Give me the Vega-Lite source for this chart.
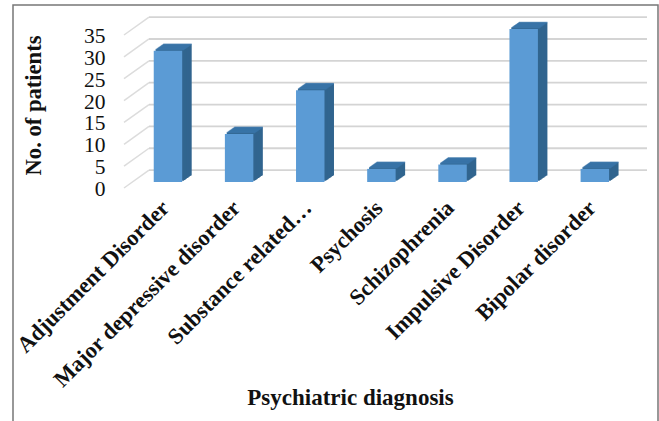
{"$schema":"https://vega.github.io/schema/vega-lite/v6.json","width":645,"height":420,"autosize":{"type":"none"},"padding":{"left":13,"top":5,"right":1,"bottom":0},"background":"white","config":{"view":{"stroke":"#777777","strokeWidth":1.5},"font":"Liberation Serif"},
"datasets":{"bars":[{"d":"Adjustment Disorder","n":30},{"d":"Major depressive disorder","n":11},{"d":"Substance related…","n":21},{"d":"Psychosis","n":3},{"d":"Schizophrenia","n":4},{"d":"Impulsive Disorder","n":35},{"d":"Bipolar disorder","n":3}],
"wall":[{"g":0,"p":0,"l":0},{"g":0,"p":1,"l":4.09},{"g":5,"p":0,"l":5},{"g":5,"p":1,"l":9.09},{"g":10,"p":0,"l":10},{"g":10,"p":1,"l":14.09},{"g":15,"p":0,"l":15},{"g":15,"p":1,"l":19.09},{"g":20,"p":0,"l":20},{"g":20,"p":1,"l":24.09},{"g":25,"p":0,"l":25},{"g":25,"p":1,"l":29.09},{"g":30,"p":0,"l":30},{"g":30,"p":1,"l":34.09},{"g":35,"p":0,"l":35},{"g":35,"p":1,"l":39.09}],
"back":[{"g":0,"p":0,"l":4.09},{"g":0,"p":1,"l":4.09},{"g":5,"p":0,"l":9.09},{"g":5,"p":1,"l":9.09},{"g":10,"p":0,"l":14.09},{"g":10,"p":1,"l":14.09},{"g":15,"p":0,"l":19.09},{"g":15,"p":1,"l":19.09},{"g":20,"p":0,"l":24.09},{"g":20,"p":1,"l":24.09},{"g":25,"p":0,"l":29.09},{"g":25,"p":1,"l":29.09},{"g":30,"p":0,"l":34.09},{"g":30,"p":1,"l":34.09},{"g":35,"p":0,"l":39.09},{"g":35,"p":1,"l":39.09}]},
"resolve":{"scale":{"x":"independent"}},
"layer":[
{"data":{"name":"wall"},"mark":{"type":"line","color":"#dcdcdc","strokeWidth":1.5},"encoding":{"detail":{"field":"g"},"x":{"field":"p","type":"quantitative","axis":null,"scale":{"domain":[0,1],"range":[111,136]}},"y":{"field":"l","type":"quantitative","scale":{"domain":[0,35],"range":[183,30],"nice":false},"axis":{"values":[0,5,10,15,20,25,30,35],"labelOverlap":false,"domain":false,"ticks":false,"grid":false,"offset":-92,"labelPadding":0,"labelOffset":1.5,"labelFont":"Liberation Serif","labelFontSize":21.5,"labelColor":"#111111","title":"No. of patients","titleFont":"Liberation Serif","titleFontSize":22.6,"titleFontWeight":"bold","titleColor":"#111111","titleX":-60,"titleY":100,"titleAnchor":"middle"}}}},
{"data":{"name":"back"},"mark":{"type":"line","color":"#d4d4d4","strokeWidth":1.8},"encoding":{"detail":{"field":"g"},"x":{"field":"p","type":"quantitative","axis":null,"scale":{"domain":[0,1],"range":[136,634]}},"y":{"field":"l","type":"quantitative"}}},
{"data":{"name":"bars"},"encoding":{"x":{"field":"d","type":"nominal","sort":null,"scale":{"range":[111,609],"paddingInner":0.6,"paddingOuter":0.3},"axis":{"domain":false,"ticks":false,"offset":-222,"labelAngle":-45,"labelAlign":"right","labelBaseline":"middle","labelPadding":1,"labelOffset":6,"labelFont":"Liberation Serif","labelFontSize":22.5,"labelFontWeight":"bold","labelColor":"#111111","labelLimit":320,"title":"Psychiatric diagnosis","titleFont":"Liberation Serif","titleFontSize":23,"titleFontWeight":"bold","titleColor":"#111111","titleX":337,"titleY":194,"titleAnchor":"middle","titleBaseline":"middle"}},"y":{"field":"n","type":"quantitative"}},
"layer":[
{"mark":{"type":"bar","color":"#31658f","xOffset":17.9,"yOffset":-12.6}},
{"mark":{"type":"tick","color":"#3a76ab","size":28.5,"thickness":1.5,"xOffset":17.9,"yOffset":-12.6}},
{"mark":{"type":"bar","color":"#31658f","xOffset":16.95,"yOffset":-11.95}},
{"mark":{"type":"tick","color":"#3a76ab","size":28.5,"thickness":1.5,"xOffset":16.95,"yOffset":-11.95}},
{"mark":{"type":"bar","color":"#31658f","xOffset":16,"yOffset":-11.3}},
{"mark":{"type":"tick","color":"#3a76ab","size":28.5,"thickness":1.5,"xOffset":16,"yOffset":-11.3}},
{"mark":{"type":"bar","color":"#31658f","xOffset":15.05,"yOffset":-10.6}},
{"mark":{"type":"tick","color":"#3a76ab","size":28.5,"thickness":1.5,"xOffset":15.05,"yOffset":-10.6}},
{"mark":{"type":"bar","color":"#31658f","xOffset":14.1,"yOffset":-9.95}},
{"mark":{"type":"tick","color":"#3a76ab","size":28.5,"thickness":1.5,"xOffset":14.1,"yOffset":-9.95}},
{"mark":{"type":"bar","color":"#31658f","xOffset":13.15,"yOffset":-9.3}},
{"mark":{"type":"tick","color":"#3a76ab","size":28.5,"thickness":1.5,"xOffset":13.15,"yOffset":-9.3}},
{"mark":{"type":"bar","color":"#31658f","xOffset":12.2,"yOffset":-8.6}},
{"mark":{"type":"tick","color":"#3a76ab","size":28.5,"thickness":1.5,"xOffset":12.2,"yOffset":-8.6}},
{"mark":{"type":"bar","color":"#31658f","xOffset":11.25,"yOffset":-7.95}},
{"mark":{"type":"tick","color":"#3a76ab","size":28.5,"thickness":1.5,"xOffset":11.25,"yOffset":-7.95}},
{"mark":{"type":"bar","color":"#31658f","xOffset":10.3,"yOffset":-7.3}},
{"mark":{"type":"tick","color":"#3a76ab","size":28.5,"thickness":1.5,"xOffset":10.3,"yOffset":-7.3}},
{"mark":{"type":"bar","color":"#5b9bd5","xOffset":8.4,"yOffset":-6}}
]}
]}
